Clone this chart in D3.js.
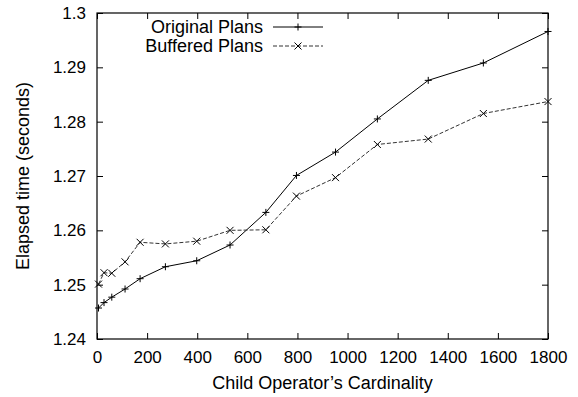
<!DOCTYPE html>
<html lang="en">
<head>
<meta charset="UTF-8">
<script src="https://cdnjs.cloudflare.com/ajax/libs/d3/7.8.5/d3.min.js"></script>
<style>
  body { margin: 0; background: #fff; }
  text { font-family: "Liberation Sans", Arial, sans-serif; fill: #000; }
</style>
</head>
<body>
<div id="chart"></div>
<script>
// data
var cardinality = [6, 28, 59, 112, 172, 273, 398, 531, 674, 796, 952, 1119, 1322, 1542, 1800];
var originalPlans = [1.2457, 1.2467, 1.2477, 1.2492, 1.2511, 1.2533, 1.2544, 1.2573, 1.2633, 1.2701, 1.2744, 1.2805, 1.2876, 1.2908, 1.2966];
var bufferedPlans = [1.2501, 1.2522, 1.2521, 1.2542, 1.2578, 1.2575, 1.2580, 1.2600, 1.2601, 1.2663, 1.2697, 1.2758, 1.2768, 1.2815, 1.2837];
var xTicks = [0, 200, 400, 600, 800, 1000, 1200, 1400, 1600, 1800];
var yTicks = [1.24, 1.25, 1.26, 1.27, 1.28, 1.29, 1.3];

var width = 578, height = 397;
var mLeft = 97, mRight = 548, mTop = 13, mBottom = 339;

var svg = d3.select("#chart").append("svg")
    .attr("width", width)
    .attr("height", height);

var x = d3.scaleLinear().domain([0, 1800]).range([mLeft, mRight]);
var y = d3.scaleLinear().domain([1.24, 1.3]).range([mBottom, mTop]);

// axes with inward ticks (gnuplot style)
var fmtY = function (d) { return d3.format(".2f")(d).replace(/0$/, ""); };

svg.append("g")
    .attr("transform", "translate(0," + mBottom + ")")
    .call(d3.axisBottom(x).tickValues(xTicks).tickSizeInner(-6).tickSizeOuter(0).tickPadding(12).tickFormat(d3.format("d")))
    .call(function (g) { g.select(".domain").remove(); })
    .selectAll("text").style("font-size", "17px");

svg.append("g")
    .attr("transform", "translate(" + mLeft + ",0)")
    .call(d3.axisLeft(y).tickValues(yTicks).tickSizeInner(-6).tickSizeOuter(0).tickPadding(11).tickFormat(fmtY))
    .call(function (g) { g.select(".domain").remove(); })
    .selectAll("text").style("font-size", "17px");

svg.append("g")
    .attr("transform", "translate(0," + mTop + ")")
    .call(d3.axisTop(x).tickValues(xTicks).tickSizeInner(-6).tickSizeOuter(0).tickFormat(""))
    .call(function (g) { g.select(".domain").remove(); });

svg.append("g")
    .attr("transform", "translate(" + mRight + ",0)")
    .call(d3.axisRight(y).tickValues(yTicks).tickSizeInner(-6).tickSizeOuter(0).tickFormat(""))
    .call(function (g) { g.select(".domain").remove(); });

svg.append("rect")
    .attr("x", mLeft).attr("y", mTop)
    .attr("width", mRight - mLeft).attr("height", mBottom - mTop)
    .attr("fill", "none").attr("stroke", "#000").attr("stroke-width", 1.2);

// axis titles
svg.append("text")
    .attr("x", (mLeft + mRight) / 2).attr("y", 389)
    .attr("text-anchor", "middle")
    .style("font-size", "18px")
    .text("Child Operator\u2019s Cardinality");

svg.append("text")
    .attr("transform", "translate(29," + ((mTop + mBottom) / 2) + ") rotate(-90)")
    .attr("text-anchor", "middle")
    .style("font-size", "18px")
    .text("Elapsed time (seconds)");

// series
var line = d3.line()
    .x(function (d) { return x(d[0]); })
    .y(function (d) { return y(d[1]); });

var orig = d3.zip(cardinality, originalPlans);
var buff = d3.zip(cardinality, bufferedPlans);

svg.append("path").datum(orig)
    .attr("d", line)
    .attr("fill", "none").attr("stroke", "#000").attr("stroke-width", 1);

svg.append("path").datum(buff)
    .attr("d", line)
    .attr("fill", "none").attr("stroke", "#333").attr("stroke-width", 1)
    .attr("stroke-dasharray", "4,2");

var plus = function (cx, cy) {
    var s = 3.5;
    return "M" + (cx - s) + "," + cy + "H" + (cx + s) + "M" + cx + "," + (cy - s) + "V" + (cy + s);
};
var cross = function (cx, cy) {
    var s = 3.5;
    return "M" + (cx - s) + "," + (cy - s) + "L" + (cx + s) + "," + (cy + s) +
        "M" + (cx - s) + "," + (cy + s) + "L" + (cx + s) + "," + (cy - s);
};

svg.append("g").selectAll("path").data(orig).enter().append("path")
    .attr("d", function (d) { return plus(x(d[0]), y(d[1])); })
    .attr("stroke", "#000").attr("stroke-width", 1);

svg.append("g").selectAll("path").data(buff).enter().append("path")
    .attr("d", function (d) { return cross(x(d[0]), y(d[1])); })
    .attr("stroke", "#000").attr("stroke-width", 1);

// legend
var legend = [
    {name: "Original Plans", dash: null, color: "#000", mark: plus},
    {name: "Buffered Plans", dash: "4,2", color: "#333", mark: cross}
];
legend.forEach(function (l, i) {
    var ly = 27 + i * 19;
    svg.append("text")
        .attr("x", 263).attr("y", ly)
        .attr("dy", "0.35em")
        .attr("text-anchor", "end")
        .style("font-size", "18px")
        .text(l.name);
    svg.append("line")
        .attr("x1", 273).attr("x2", 323).attr("y1", ly).attr("y2", ly)
        .attr("stroke", l.color).attr("stroke-width", 1)
        .attr("stroke-dasharray", l.dash);
    svg.append("path")
        .attr("d", l.mark(298, ly))
        .attr("stroke", "#000").attr("stroke-width", 1);
});
</script>
</body>
</html>
